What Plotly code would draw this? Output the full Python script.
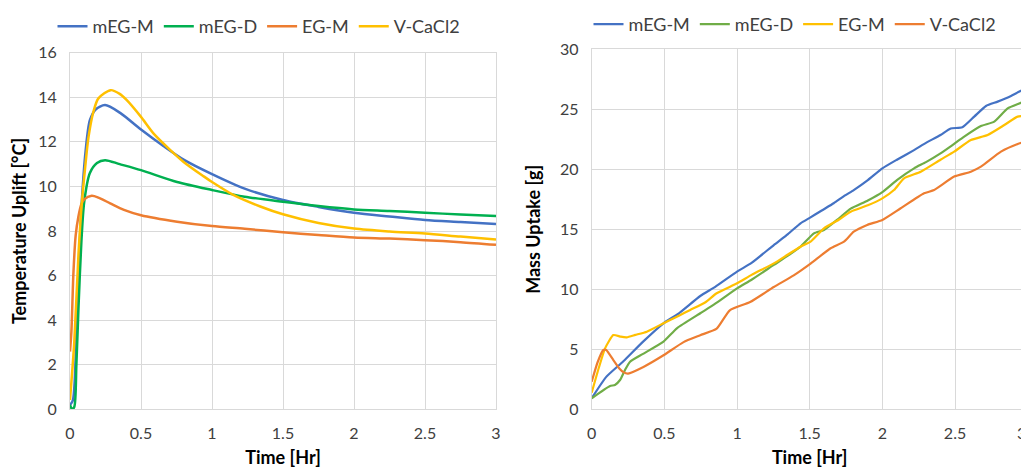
import plotly.graph_objects as go

# ---------------- Left chart: Temperature uplift ----------------
temp_series = ["mEG-M", "mEG-D", "EG-M", "V-CaCl2"]

t_megm = [0, 0.02, 0.05, 0.08, 0.11, 0.14, 0.18, 0.247, 0.353, 0.5, 0.66, 0.8, 1.0, 1.23, 1.5, 1.75, 2.0, 2.25, 2.5, 2.75, 3.0]
temp_megm = [0.2, 0.4, 4.5, 9.0, 11.6, 12.97, 13.45, 13.65, 13.3, 12.55, 11.8, 11.2, 10.55, 9.9, 9.39, 9.08, 8.82, 8.65, 8.49, 8.4, 8.31]

t_megd = [0, 0.015, 0.03, 0.045, 0.06, 0.08, 0.1, 0.14, 0.19, 0.247, 0.35, 0.5, 0.754, 1.0, 1.23, 1.5, 1.75, 2.0, 2.25, 2.5, 2.75, 3.0]
temp_megd = [0.2, 0.0, 0.1, 2.0, 4.6, 7.5, 9.3, 10.6, 11.05, 11.18, 11.0, 10.73, 10.2, 9.84, 9.54, 9.31, 9.12, 8.97, 8.9, 8.82, 8.74, 8.67]

t_egm = [0, 0.01, 0.024, 0.04, 0.059, 0.08, 0.1, 0.153, 0.2, 0.283, 0.38, 0.5, 0.754, 1.0, 1.23, 1.5, 1.75, 2.0, 2.25, 2.5, 2.75, 3.0]
temp_egm = [2.59, 3.5, 6.1, 7.8, 8.64, 9.2, 9.42, 9.58, 9.5, 9.24, 8.95, 8.71, 8.42, 8.22, 8.1, 7.94, 7.82, 7.71, 7.66, 7.59, 7.5, 7.38]

t_vcacl2 = [0, 0.03, 0.06, 0.085, 0.106, 0.13, 0.165, 0.2, 0.287, 0.35, 0.4, 0.5, 0.589, 0.707, 0.8, 0.942, 1.0, 1.15, 1.34, 1.5, 1.75, 2.0, 2.25, 2.5, 2.75, 3.0]
temp_vcacl2 = [0.42, 3.0, 7.0, 9.4, 10.8, 12.2, 13.35, 13.95, 14.32, 14.15, 13.87, 13.12, 12.37, 11.63, 11.1, 10.45, 10.2, 9.62, 9.1, 8.75, 8.36, 8.11, 7.98, 7.89, 7.75, 7.62]

# ---------------- Right chart: Mass uptake ----------------
mass_series = ["mEG-M", "mEG-D", "EG-M", "V-CaCl2"]

tm_megm = [0, 0.1, 0.218, 0.35, 0.494, 0.6, 0.747, 0.85, 1.0, 1.1, 1.253, 1.35, 1.437, 1.5, 1.58, 1.665, 1.74, 1.803, 1.9, 2.0, 2.1, 2.218, 2.3, 2.4, 2.47, 2.55, 2.632, 2.713, 2.793, 2.885, 2.966, 3.0]
mass_megm = [0.92, 2.7, 4.0, 5.6, 7.17, 8.0, 9.44, 10.2, 11.47, 12.2, 13.69, 14.6, 15.5, 15.95, 16.55, 17.17, 17.8, 18.27, 19.1, 20.08, 20.8, 21.6, 22.2, 22.86, 23.4, 23.5, 24.39, 25.28, 25.64, 26.11, 26.61, 26.55]

tm_megd = [0, 0.126, 0.16, 0.195, 0.23, 0.264, 0.35, 0.494, 0.586, 0.747, 0.85, 1.0, 1.1, 1.253, 1.35, 1.437, 1.529, 1.598, 1.7, 1.782, 1.9, 2.0, 2.1, 2.218, 2.3, 2.4, 2.48, 2.563, 2.678, 2.77, 2.862, 2.954, 3.0]
mass_megd = [0.92, 1.94, 2.03, 2.44, 3.3, 3.97, 4.6, 5.64, 6.75, 8.0, 8.8, 10.08, 10.8, 12.03, 12.8, 13.55, 14.66, 14.94, 15.9, 16.72, 17.4, 18.1, 19.1, 20.08, 20.6, 21.33, 22.0, 22.72, 23.6, 23.97, 25.08, 25.55, 25.83]

tm_egm = [0, 0.05, 0.092, 0.149, 0.2, 0.241, 0.3, 0.379, 0.494, 0.6, 0.678, 0.78, 0.86, 1.0, 1.1, 1.253, 1.35, 1.437, 1.506, 1.598, 1.7, 1.782, 1.9, 2.0, 2.08, 2.149, 2.264, 2.4, 2.494, 2.609, 2.724, 2.839, 2.931, 3.0]
mass_egm = [1.38, 3.5, 5.08, 6.19, 6.05, 6.0, 6.2, 6.47, 7.17, 7.8, 8.28, 8.9, 9.67, 10.5, 11.2, 12.16, 12.9, 13.55, 13.97, 15.08, 15.8, 16.47, 17.0, 17.58, 18.27, 19.25, 19.8, 20.8, 21.47, 22.44, 22.86, 23.69, 24.39, 24.44]

tm_vcacl2 = [0, 0.04, 0.08, 0.1, 0.149, 0.19, 0.218, 0.25, 0.356, 0.494, 0.632, 0.747, 0.86, 0.95, 1.09, 1.253, 1.39, 1.506, 1.644, 1.736, 1.803, 1.895, 2.0, 2.126, 2.287, 2.356, 2.494, 2.609, 2.678, 2.816, 2.931, 3.0]
mass_vcacl2 = [2.3, 3.9, 4.94, 4.95, 4.1, 3.4, 3.1, 2.98, 3.53, 4.5, 5.6, 6.17, 6.72, 8.25, 8.94, 10.19, 11.16, 12.14, 13.42, 13.97, 14.8, 15.36, 15.78, 16.75, 18.0, 18.27, 19.39, 19.8, 20.22, 21.47, 22.11, 22.36]

temp_colors = ["#4472C4", "#00B050", "#ED7D31", "#FFC000"]
mass_colors = ["#4472C4", "#70AD47", "#FFC000", "#ED7D31"]

FONT = "Lato, Open Sans, sans-serif"
TXT = "#404040"
GRID = "#d9d9d9"

fig = go.Figure()

temp_x = [t_megm, t_megd, t_egm, t_vcacl2]
temp_y = [temp_megm, temp_megd, temp_egm, temp_vcacl2]
for name, xs, ys, c in zip(temp_series, temp_x, temp_y, temp_colors):
    fig.add_trace(go.Scatter(x=xs, y=ys, name=name, mode="lines",
                             line=dict(color=c, width=2.5, shape="spline", smoothing=0.8),
                             xaxis="x", yaxis="y", legend="legend"))

mass_x = [tm_megm, tm_megd, tm_egm, tm_vcacl2]
mass_y = [mass_megm, mass_megd, mass_egm, mass_vcacl2]
for name, xs, ys, c in zip(mass_series, mass_x, mass_y, mass_colors):
    fig.add_trace(go.Scatter(x=xs, y=ys, name=name, mode="lines",
                             line=dict(color=c, width=2.2, shape="spline", smoothing=0.5),
                             xaxis="x2", yaxis="y2", legend="legend2"))

# page body has an 8px default margin; lay out the figure in page pixels minus that offset
OFF = 8
W, H = 1029 - OFF, 471 - OFF


def px_x(p):
    return (p - OFF) / W


def px_y(p):
    return 1 - (p - OFF) / H


axis_common = dict(showgrid=True, gridcolor=GRID, gridwidth=1, zeroline=False,
                   showline=True, linecolor=GRID, linewidth=1, mirror=True,
                   automargin=False,
                   ticks="outside", ticklen=9, tickcolor="rgba(0,0,0,0)",
                   tickfont=dict(family=FONT, size=16, color=TXT))
title_font = dict(family=FONT, size=18, color="#000000")

fig.update_layout(
    width=W, height=H,
    margin=dict(l=0, r=0, t=0, b=0, autoexpand=False),
    paper_bgcolor="white", plot_bgcolor="white",
    font=dict(family=FONT, color=TXT),
    xaxis=dict(domain=[px_x(70), px_x(496)], range=[0, 3], dtick=0.5, anchor="y",
               title=dict(text="<b>Time [Hr]</b>", font=title_font, standoff=10),
               **axis_common),
    yaxis=dict(domain=[px_y(409.3), px_y(52.7)], range=[0, 16], dtick=2, anchor="x",
               title=dict(text="<b>Temperature Uplift [°C]</b>", font=title_font, standoff=10),
               **axis_common),
    xaxis2=dict(domain=[px_x(591.7), px_x(1027.7)], range=[0, 3], dtick=0.5, anchor="y2",
                title=dict(text="<b>Time [Hr]</b>", font=title_font, standoff=10),
                **axis_common),
    yaxis2=dict(domain=[px_y(409.3), px_y(49.3)], range=[0, 30], dtick=5, anchor="x2",
                title=dict(text="<b>Mass Uptake [g]</b>", font=title_font, standoff=14),
                **axis_common),
    legend=dict(orientation="h", x=px_x(259), xanchor="center", y=px_y(8), yanchor="top",
                font=dict(family=FONT, size=18, color=TXT), bgcolor="rgba(0,0,0,0)",
                tracegroupgap=0),
    legend2=dict(orientation="h", x=px_x(795), xanchor="center", y=px_y(6), yanchor="top",
                 font=dict(family=FONT, size=18, color=TXT), bgcolor="rgba(0,0,0,0)",
                 tracegroupgap=0),
)

# last tick label of the right chart (plotly drops it at the page edge); keep it fully visible
fig.add_annotation(text="3", xref="x2", x=3, yref="paper", y=px_y(432),
                   xanchor="right", yanchor="middle", showarrow=False,
                   font=dict(family=FONT, size=16, color=TXT))

fig.write_html("out.html")
